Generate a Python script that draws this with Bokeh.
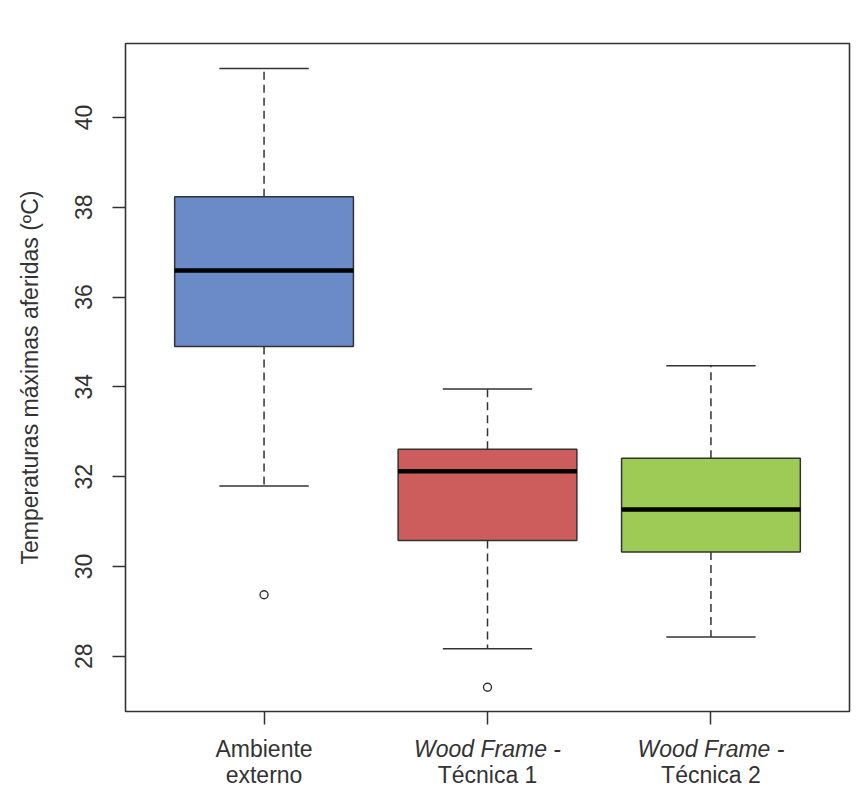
from bokeh.plotting import figure
from bokeh.layouts import column
from bokeh.models import Range1d, FixedTicker
from bokeh.core.properties import value
from bokeh.embed import file_html
from bokeh.resources import INLINE

# ---- data ----
categories_line1 = ["Ambiente", "Wood Frame -", "Wood Frame -"]
categories_line2 = ["externo", "Técnica 1", "Técnica 2"]
line1_style = ["normal", "italic", "italic"]
positions = [1, 2, 3]
lower_whisker = [31.79, 28.17, 28.43]
q1 = [34.90, 30.58, 30.32]
median = [36.59, 32.12, 31.27]
q3 = [38.23, 32.61, 32.41]
upper_whisker = [41.09, 33.95, 34.47]
outlier_x = [1, 2]
outlier_y = [29.37, 27.31]
colors = ["#6A8BC8", "#CD5C5C", "#9ECB55"]
y_ticks = [28, 30, 32, 34, 36, 38, 40]

FONT = "Liberation Sans"
DARK = "#333333"
box_w = 0.8
cap_w = 0.4
W = 851

xr = Range1d(0.38, 3.62)
p = figure(width=W, height=731, output_backend="svg", toolbar_location=None,
           x_range=xr, y_range=Range1d(26.77, 41.645),
           min_border_left=125, min_border_top=43, min_border_right=2, min_border_bottom=20)
p.grid.visible = False
p.outline_line_color = DARK
p.outline_line_width = 1.6
p.background_fill_color = "white"
p.border_fill_color = "white"

# whiskers
p.segment(x0=positions, x1=positions, y0=q3, y1=upper_whisker,
          line_color=DARK, line_width=1.5, line_dash="8 5")
p.segment(x0=positions, x1=positions, y0=q1, y1=lower_whisker,
          line_color=DARK, line_width=1.5, line_dash="8 5")
# caps
p.segment(x0=[x - cap_w / 2 for x in positions], x1=[x + cap_w / 2 for x in positions],
          y0=upper_whisker, y1=upper_whisker, line_color=DARK, line_width=1.5)
p.segment(x0=[x - cap_w / 2 for x in positions], x1=[x + cap_w / 2 for x in positions],
          y0=lower_whisker, y1=lower_whisker, line_color=DARK, line_width=1.5)
# boxes
p.vbar(x=positions, width=box_w, bottom=q1, top=q3, fill_color=colors,
       line_color=DARK, line_width=1.5)
# medians
p.segment(x0=[x - box_w / 2 for x in positions], x1=[x + box_w / 2 for x in positions],
          y0=median, y1=median, line_color="black", line_width=4.5, line_cap="butt")
# outliers
p.scatter(outlier_x, outlier_y, marker="circle", size=8, fill_color=None,
          line_color=DARK, line_width=1.4)

# axes
p.yaxis.ticker = FixedTicker(ticks=y_ticks)
p.yaxis.major_label_orientation = "vertical"
p.yaxis.major_label_text_font = FONT
p.yaxis.major_label_text_font_size = "23px"
p.yaxis.major_label_text_color = DARK
p.yaxis.major_label_standoff = 20
p.yaxis.major_tick_out = 13
p.yaxis.major_tick_in = 0
p.yaxis.major_tick_line_color = DARK
p.yaxis.major_tick_line_width = 1.5
p.yaxis.minor_tick_line_color = None
p.yaxis.axis_line_color = None
p.yaxis.axis_label = "Temperaturas máximas aferidas (ºC)"
p.yaxis.axis_label_text_font = FONT
p.yaxis.axis_label_text_font_style = "normal"
p.yaxis.axis_label_text_font_size = "23px"
p.yaxis.axis_label_text_color = DARK
p.yaxis.axis_label_standoff = 30

p.xaxis.ticker = FixedTicker(ticks=positions)
p.xaxis.major_label_text_color = None
p.xaxis.major_label_text_font_size = "0px"
p.xaxis.major_label_standoff = 0
p.xaxis.major_tick_out = 13
p.xaxis.major_tick_in = 0
p.xaxis.major_tick_line_color = DARK
p.xaxis.major_tick_line_width = 1.5
p.xaxis.minor_tick_line_color = None
p.xaxis.axis_line_color = None

# category labels, two lines each (line 0 = top, line 1 = bottom)
p2 = figure(width=W, height=61, output_backend="svg", toolbar_location=None,
            x_range=xr, y_range=Range1d(1.63, -0.63),
            x_axis_type=None, y_axis_type=None,
            min_border_left=125, min_border_right=2, min_border_top=0, min_border_bottom=0)
p2.grid.visible = False
p2.outline_line_color = None
p2.background_fill_color = "white"
p2.border_fill_color = "white"
for style in ("normal", "italic"):
    idx = [i for i, s in enumerate(line1_style) if s == style]
    p2.text(x=[positions[i] for i in idx], y=[0] * len(idx),
            text=[categories_line1[i] for i in idx],
            text_font=value(FONT), text_font_size="23px", text_font_style=style,
            text_color=DARK, text_align="center", text_baseline="middle")
p2.text(x=positions, y=[1] * len(positions), text=categories_line2,
        text_font=value(FONT), text_font_size="23px",
        text_color=DARK, text_align="center", text_baseline="middle")

layout = column(p, p2, spacing=0)
open("out.html", "w").write(file_html(layout, INLINE))
